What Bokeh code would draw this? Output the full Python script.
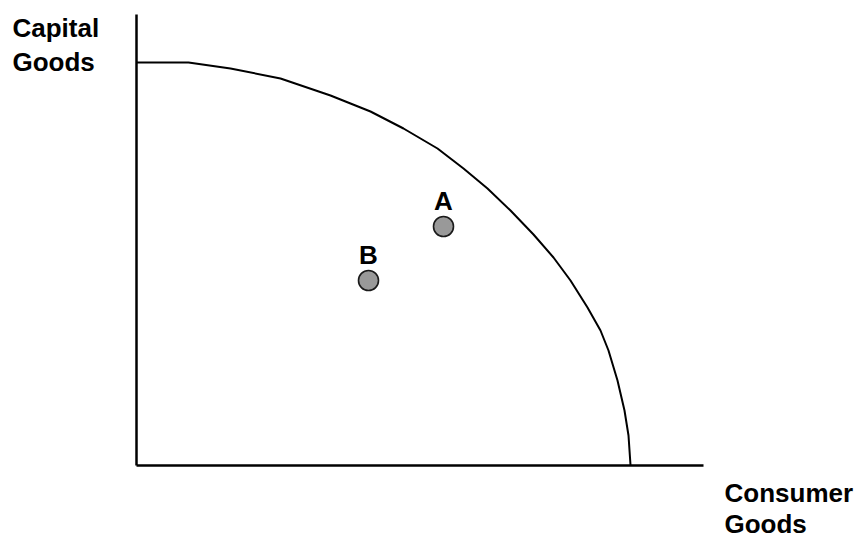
from bokeh.plotting import figure
from bokeh.models import Range1d, FixedTicker
from bokeh.embed import file_html
from bokeh.resources import INLINE
from bokeh.core.properties import value

# ---- data ----
# production possibility frontier: consumer goods (x) vs capital goods (y)
ppf_consumer = [0, 5.2, 9.4, 14.4, 19.4, 23.4, 26.7, 30.1, 32.7, 35.1, 37.4,
                39.7, 41.7, 43.4, 45.1, 46.4, 47.2, 48.1, 48.8, 49.2, 49.4]
ppf_capital = [40.25, 40.25, 39.65, 38.65, 36.95, 35.35, 33.65, 31.65, 29.65,
               27.65, 25.45, 23.05, 20.75, 18.45, 15.75, 13.45, 11.45, 8.45,
               5.45, 2.95, 0]
point_names = ["A", "B"]
point_consumer = [30.7, 23.2]
point_capital = [23.85, 18.45]
x_axis_max = 56.7
y_axis_max = 45.05
y_title_lines = ["Capital", "Goods"]
x_title_lines = ["Consumer", "Goods"]

# ---- layout ----
W, H = 861, 543
OX, OY = 136, 464.5      # origin position inside the figure (px)
PX = 10.0                # px per data unit
FONT = value("Liberation Sans")
FSIZE = "26px"

p = figure(width=W, height=H, output_backend="svg", toolbar_location=None,
           x_range=Range1d(-OX / PX, (W - OX) / PX),
           y_range=Range1d(-(H - OY) / PX, OY / PX),
           min_border=0)
p.grid.visible = False
p.outline_line_color = None
p.background_fill_color = "white"
p.border_fill_color = "white"

for ax, top in ((p.xaxis, x_axis_max), (p.yaxis, y_axis_max)):
    ax.fixed_location = 0
    ax.bounds = (0, top)
    ax.ticker = FixedTicker(ticks=[])
    ax.major_tick_line_color = None
    ax.minor_tick_line_color = None
    ax.major_tick_out = 0
    ax.major_tick_in = 0
    ax.major_label_text_font_size = "0px"
    ax.major_label_standoff = 0
    ax.axis_line_color = "black"
    ax.axis_line_width = 2.5

p.line(ppf_consumer, ppf_capital, line_color="black", line_width=2,
       line_join="round")

p.scatter(point_consumer, point_capital, size=20, fill_color="#999999",
          line_color="#1a1a1a", line_width=1.6)
p.text(point_consumer, point_capital, text=point_names, y_offset=-26,
       text_align="center", text_baseline="alphabetic", text_font=FONT,
       text_font_size=FSIZE, text_font_style="bold", text_color="black")

# axis titles
p.text([-12.4, -12.4], [43.7, 40.3], text=y_title_lines, text_align="left",
       text_baseline="alphabetic", text_font=FONT, text_font_size=FSIZE,
       text_font_style="bold", text_color="black")
p.text([58.8, 58.8], [-2.8, -5.9], text=x_title_lines, text_align="left",
       text_baseline="alphabetic", text_font=FONT, text_font_size=FSIZE,
       text_font_style="bold", text_color="black")

open("out.html", "w").write(file_html(p, INLINE))
